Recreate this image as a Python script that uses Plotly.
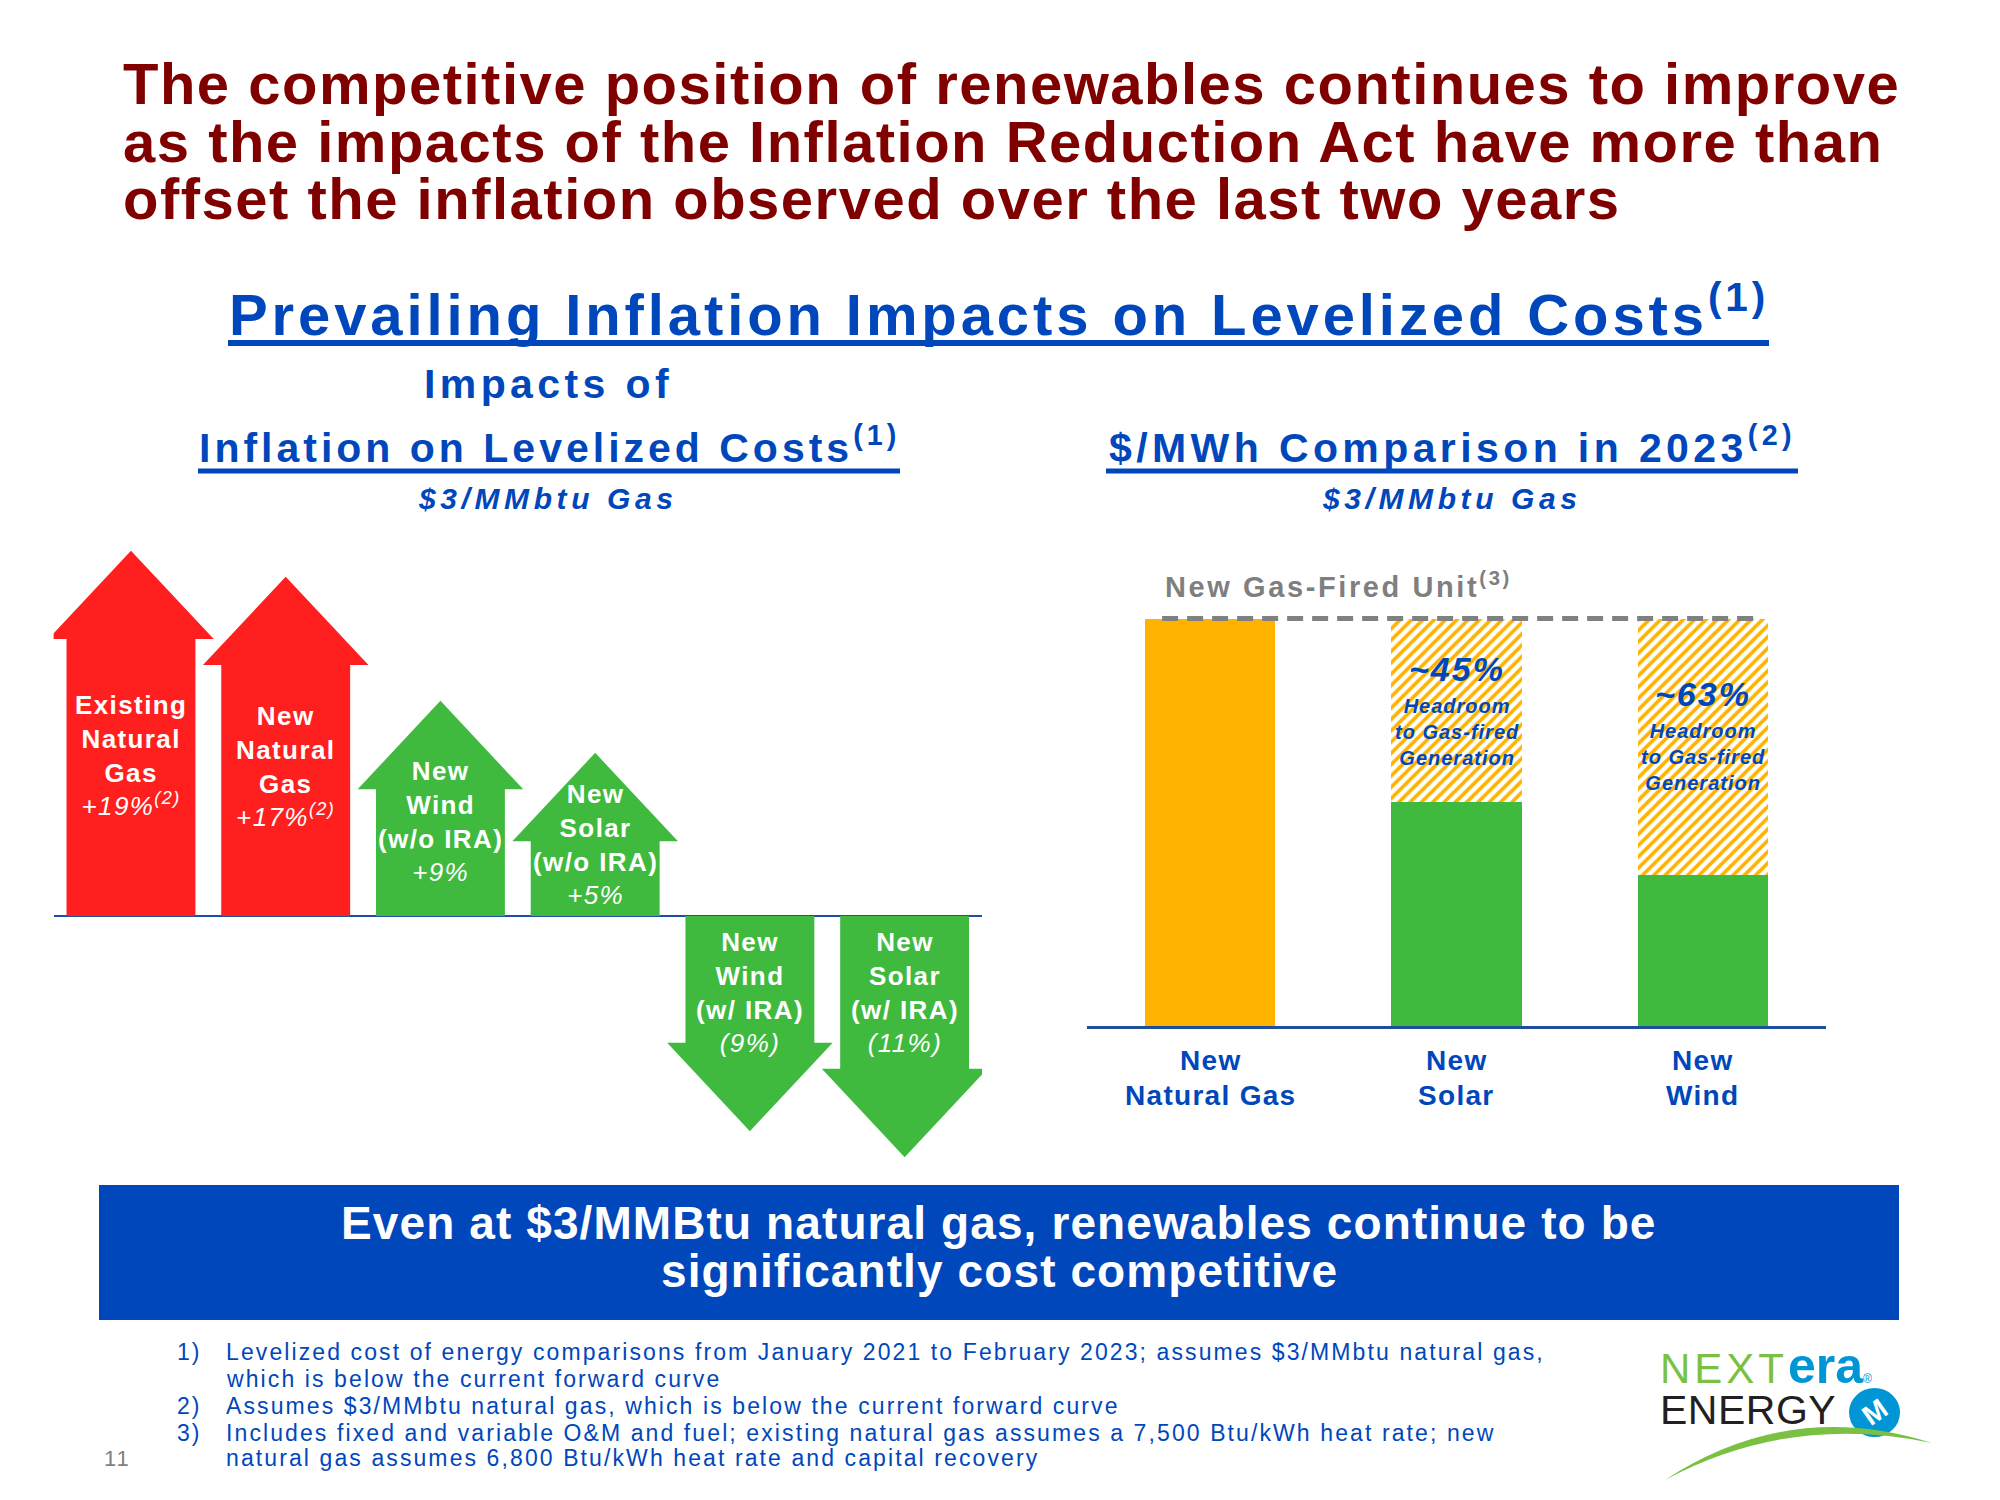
import plotly.graph_objects as go

# ---------------- data ----------------
arrow_names = ["Existing<br>Natural<br>Gas", "New<br>Natural<br>Gas", "New<br>Wind<br>(w/o IRA)",
               "New<br>Solar<br>(w/o IRA)", "New<br>Wind<br>(w/ IRA)", "New<br>Solar<br>(w/ IRA)"]
arrow_values = [19, 17, 9, 5, -9, -11]          # % change in levelized cost
arrow_value_text = ["+19%", "+17%", "+9%", "+5%", "(9%)", "(11%)"]
arrow_notes = ["(2)", "(2)", "", "", "", ""]
arrow_group = ["gas", "gas", "renew", "renew", "renew", "renew"]

bar_categories = ["New<br>Natural Gas", "New<br>Solar", "New<br>Wind"]
gas_unit_level = 100                              # new gas-fired unit = 100
headroom_pct = [0, 45, 63]                        # headroom to gas-fired generation
headroom_text = ["", "~45%", "~63%"]

title_lines = ["The competitive position of renewables continues to improve",
               "as the impacts of the Inflation Reduction Act have more than",
               "offset the inflation observed over the last two years"]
banner_lines = ["Even at $3/MMBtu natural gas, renewables continue to be",
                "significantly cost competitive"]
footnote_nums = ["1)", "", "2)", "3)", ""]
footnote_lines = ["Levelized cost of energy comparisons from January 2021 to February 2023; assumes $3/MMbtu natural gas,",
                  "which is below the current forward curve",
                  "Assumes $3/MMbtu natural gas, which is below the current forward curve",
                  "Includes fixed and variable O&M and fuel; existing natural gas assumes a 7,500 Btu/kWh heat rate; new",
                  "natural gas assumes 6,800 Btu/kWh heat rate and capital recovery"]

# ---------------- style ----------------
FONT = "Liberation Sans, Arial, sans-serif"
RED, GREEN, ORANGE = "#FF1F1F", "#3FBA3F", "#FFB300"
BLUE, DARKRED, GRAY = "#0047BB", "#800000", "#7F7F7F"
W, H = 2000, 1500
OFF = 8  # page body margin in the browser


def X(px):
    return (px - OFF) / W


def Y(py):
    return 1 - (py - OFF) / H


def sp(text, ls):
    return f'<span style="letter-spacing:{ls}px">{text}</span>'


def spl(text, ls):
    return "<br>".join(sp(t, ls) for t in text.split("<br>"))


fig = go.Figure()
ann = []
shapes = []

# ---------------- left chart: arrows ----------------
BODY_W, HEAD_W, HEAD_H = 0.833, 1.07, 6.8
STEM = {"gas": 9.1, "renew": 7.55}
COLOR = {"gas": RED, "renew": GREEN}
for i, (v, g) in enumerate(zip(arrow_values, arrow_group)):
    s = 1 if v > 0 else -1
    tip = v + s * STEM[g]
    hb = tip - s * HEAD_H
    xs = [i - BODY_W / 2, i - BODY_W / 2, i - HEAD_W / 2, i, i + HEAD_W / 2, i + BODY_W / 2, i + BODY_W / 2, i - BODY_W / 2]
    ys = [0, hb, hb, tip, hb, hb, 0, 0]
    fig.add_trace(go.Scatter(x=xs, y=ys, mode="lines", fill="toself", fillcolor=COLOR[g],
                             line=dict(width=0, color=COLOR[g]), hoverinfo="skip",
                             xaxis="x", yaxis="y"))
    note = f"<sup>{arrow_notes[i]}</sup>" if arrow_notes[i] else ""
    txt = "<b>" + spl(arrow_names[i], 1.4) + "</b><br><i>" + sp(arrow_value_text[i] + note, 1.4) + "</i>"
    if s > 0:
        pos = dict(y=tip * 0.44, yanchor="middle", yshift=0)
    else:
        pos = dict(y=0, yanchor="top", yshift=-9)
    ann.append(dict(x=i, xref="x", yref="y", text=txt, showarrow=False,
                    font=dict(family=FONT, size=26, color="white"), align="center",
                    xanchor="center", **pos))

# ---------------- right chart: bars ----------------
BAR_W = 0.53
cost = [gas_unit_level - h for h in headroom_pct]
bar_colors = [ORANGE if h == 0 else GREEN for h in headroom_pct]
xi = list(range(len(bar_categories)))
fig.add_trace(go.Bar(x=xi, y=cost, width=BAR_W, marker=dict(color=bar_colors, line=dict(width=0)),
                     xaxis="x2", yaxis="y2", hoverinfo="skip"))
fig.add_trace(go.Bar(x=xi, y=[h if h else None for h in headroom_pct], width=BAR_W,
                     marker=dict(color="white", line=dict(width=0),
                                 pattern=dict(shape="/", fgcolor=ORANGE, bgcolor="white",
                                              size=8, solidity=0.45, fillmode="replace")),
                     xaxis="x2", yaxis="y2", hoverinfo="skip"))
fig.add_trace(go.Scatter(x=[xi[0] - BAR_W / 2 + 0.07, xi[-1] + BAR_W / 2 - 0.06],
                         y=[gas_unit_level, gas_unit_level], mode="lines",
                         line=dict(color="#808080", width=5, dash="16px,9px"),
                         xaxis="x2", yaxis="y2", hoverinfo="skip"))

for i, (h, t) in enumerate(zip(headroom_pct, headroom_text)):
    if not h:
        continue
    anchor_y = gas_unit_level - 0.35 * h
    ann.append(dict(x=i, y=anchor_y, xref="x2", yref="y2", yshift=14,
                    text="<b><i>" + sp(t, 2) + "</i></b>", showarrow=False,
                    font=dict(family=FONT, size=34, color=BLUE), xanchor="center", yanchor="middle"))
    ann.append(dict(x=i, y=anchor_y, xref="x2", yref="y2", yshift=-49,
                    text="<b><i>" + spl("Headroom<br>to Gas-fired<br>Generation", 1.0) + "</i></b>",
                    showarrow=False, font=dict(family=FONT, size=20, color=BLUE),
                    xanchor="center", yanchor="middle"))

for i, c in enumerate(bar_categories):
    for k, line in enumerate(c.split("<br>")):
        ann.append(dict(x=i, y=0, xref="x2", yref="y2", yshift=-34 - 35 * k,
                        text="<b>" + sp(line, 1.3) + "</b>", showarrow=False,
                        font=dict(family=FONT, size=28, color=BLUE), xanchor="center", yanchor="middle"))

ann.append(dict(x=X(1163), y=Y(585), xref="paper", yref="paper", xanchor="left", yanchor="middle",
                text="<b>" + sp("New Gas-Fired Unit<sup>(3)</sup>", 2.6) + "</b>", showarrow=False,
                font=dict(family=FONT, size=29, color=GRAY)))

# ---------------- titles ----------------
for k, line in enumerate(title_lines):
    ann.append(dict(x=X(121), y=Y(83 + 58 * k), xref="paper", yref="paper", xanchor="left",
                    yanchor="middle", text="<b>" + sp(line, 1.5) + "</b>", showarrow=False,
                    font=dict(family=FONT, size=58, color=DARKRED)))

ann.append(dict(x=X(999), y=Y(310), xref="paper", yref="paper", xanchor="center", yanchor="middle",
                text="<b>" + sp("Prevailing Inflation Impacts on Levelized Costs<sup>(1)</sup>", 3.9) + "</b>",
                showarrow=False, font=dict(family=FONT, size=58, color=BLUE)))
shapes.append(dict(type="line", xref="paper", yref="paper", x0=X(228), x1=X(1769), y0=Y(343), y1=Y(343),
                   line=dict(color=BLUE, width=6)))

ann.append(dict(x=X(548), y=Y(384), xref="paper", yref="paper", xanchor="center", yanchor="middle",
                text="<b>" + sp("Impacts of", 4.4) + "</b>", showarrow=False,
                font=dict(family=FONT, size=41, color=BLUE)))
ann.append(dict(x=X(549), y=Y(445), xref="paper", yref="paper", xanchor="center", yanchor="middle",
                text="<b>" + sp("Inflation on Levelized Costs<sup>(1)</sup>", 4.0) + "</b>", showarrow=False,
                font=dict(family=FONT, size=41, color=BLUE)))
ann.append(dict(x=X(1452), y=Y(445), xref="paper", yref="paper", xanchor="center", yanchor="middle",
                text="<b>" + sp("$/MWh Comparison in 2023<sup>(2)</sup>", 4.4) + "</b>", showarrow=False,
                font=dict(family=FONT, size=41, color=BLUE)))
for x0, x1 in [(198, 900), (1106, 1798)]:
    shapes.append(dict(type="line", xref="paper", yref="paper", x0=X(x0), x1=X(x1), y0=Y(471), y1=Y(471),
                       line=dict(color=BLUE, width=5)))
for xc in [548, 1452]:
    ann.append(dict(x=X(xc), y=Y(499), xref="paper", yref="paper", xanchor="center", yanchor="middle",
                    text="<b><i>" + sp("$3/MMbtu Gas", 4.6) + "</i></b>", showarrow=False,
                    font=dict(family=FONT, size=30, color=BLUE)))

# ---------------- banner ----------------
shapes.append(dict(type="rect", xref="paper", yref="paper", x0=X(99), x1=X(1899), y0=Y(1320), y1=Y(1185),
                   fillcolor=BLUE, line=dict(width=0), layer="below"))
for k, line in enumerate(banner_lines):
    ann.append(dict(x=X(999), y=Y(1223 + 48 * k), xref="paper", yref="paper", xanchor="center",
                    yanchor="middle", text="<b>" + sp(line, 1.1) + "</b>", showarrow=False,
                    font=dict(family=FONT, size=46, color="white")))

# ---------------- footnotes ----------------
fy = [1352, 1379, 1405.5, 1432.5, 1458]
for k, (n, line) in enumerate(zip(footnote_nums, footnote_lines)):
    if n:
        ann.append(dict(x=X(175), y=Y(fy[k]), xref="paper", yref="paper", xanchor="left", yanchor="middle",
                        text=sp(n, 2), showarrow=False, font=dict(family=FONT, size=23, color=BLUE)))
    ann.append(dict(x=X(224), y=Y(fy[k]), xref="paper", yref="paper", xanchor="left", yanchor="middle",
                    text=sp(line, 2.1), showarrow=False, font=dict(family=FONT, size=23, color=BLUE)))
ann.append(dict(x=X(102), y=Y(1458), xref="paper", yref="paper", xanchor="left", yanchor="middle",
                text=sp("11", 2), showarrow=False, font=dict(family=FONT, size=22, color=GRAY)))

# ---------------- logo ----------------
ann.append(dict(x=X(1658), y=Y(1366), xref="paper", yref="paper", xanchor="left", yanchor="middle",
                text='<span style="letter-spacing:4px">NEXT</span><span style="fill:#0096D6;font-weight:bold;font-size:50px">era</span><span style="fill:#0096D6;font-size:12px">®</span>',
                showarrow=False, font=dict(family=FONT, size=42, color="#7AC143")))
ann.append(dict(x=X(1658), y=Y(1410), xref="paper", yref="paper", xanchor="left", yanchor="middle",
                text=sp("ENERGY", 0.5), showarrow=False,
                font=dict(family=FONT, size=41, color="#231F20")))
shapes.append(dict(type="circle", xref="paper", yref="paper", x0=X(1849), x1=X(1900), y0=Y(1437), y1=Y(1388),
                   fillcolor="#0096D6", line=dict(width=0)))
ann.append(dict(x=X(1874), y=Y(1412), xref="paper", yref="paper", xanchor="center", yanchor="middle",
                text="<b>M</b>", textangle=-35, showarrow=False,
                font=dict(family=FONT, size=28, color="white")))
swoosh = (f"M {X(1665)} {Y(1480)} Q {X(1790)} {Y(1398)} {X(1932)} {Y(1443)} "
          f"Q {X(1790)} {Y(1413)} {X(1665)} {Y(1480)} Z")
shapes.append(dict(type="path", xref="paper", yref="paper", path=swoosh, fillcolor="#7AC143",
                   line=dict(width=0)))

fig.update_layout(
    width=W, height=H, margin=dict(l=0, r=0, t=0, b=0),
    paper_bgcolor="white", plot_bgcolor="rgba(0,0,0,0)", showlegend=False,
    barmode="stack", bargap=0,
    font=dict(family=FONT),
    xaxis=dict(domain=[X(53.6), X(982)], range=[-0.5, 5.5], showgrid=False, zeroline=False,
               showticklabels=False, ticks="", showline=False, fixedrange=True),
    yaxis=dict(domain=[Y(1176), Y(526)], range=[-20, 30], showgrid=False, showticklabels=False,
               ticks="", showline=False, zeroline=True, zerolinecolor="#1F4EA8", zerolinewidth=2,
               fixedrange=True),
    xaxis2=dict(domain=[X(1087), X(1826)], range=[-0.5, 2.5], anchor="y2", showgrid=False, zeroline=False,
                showticklabels=False, ticks="", showline=True, linecolor="#1F4E9A", linewidth=3,
                fixedrange=True),
    yaxis2=dict(domain=[Y(1026), Y(537)], range=[0, 120], anchor="x2", visible=False, fixedrange=True),
    annotations=ann, shapes=shapes,
)

fig.write_html("out.html")
